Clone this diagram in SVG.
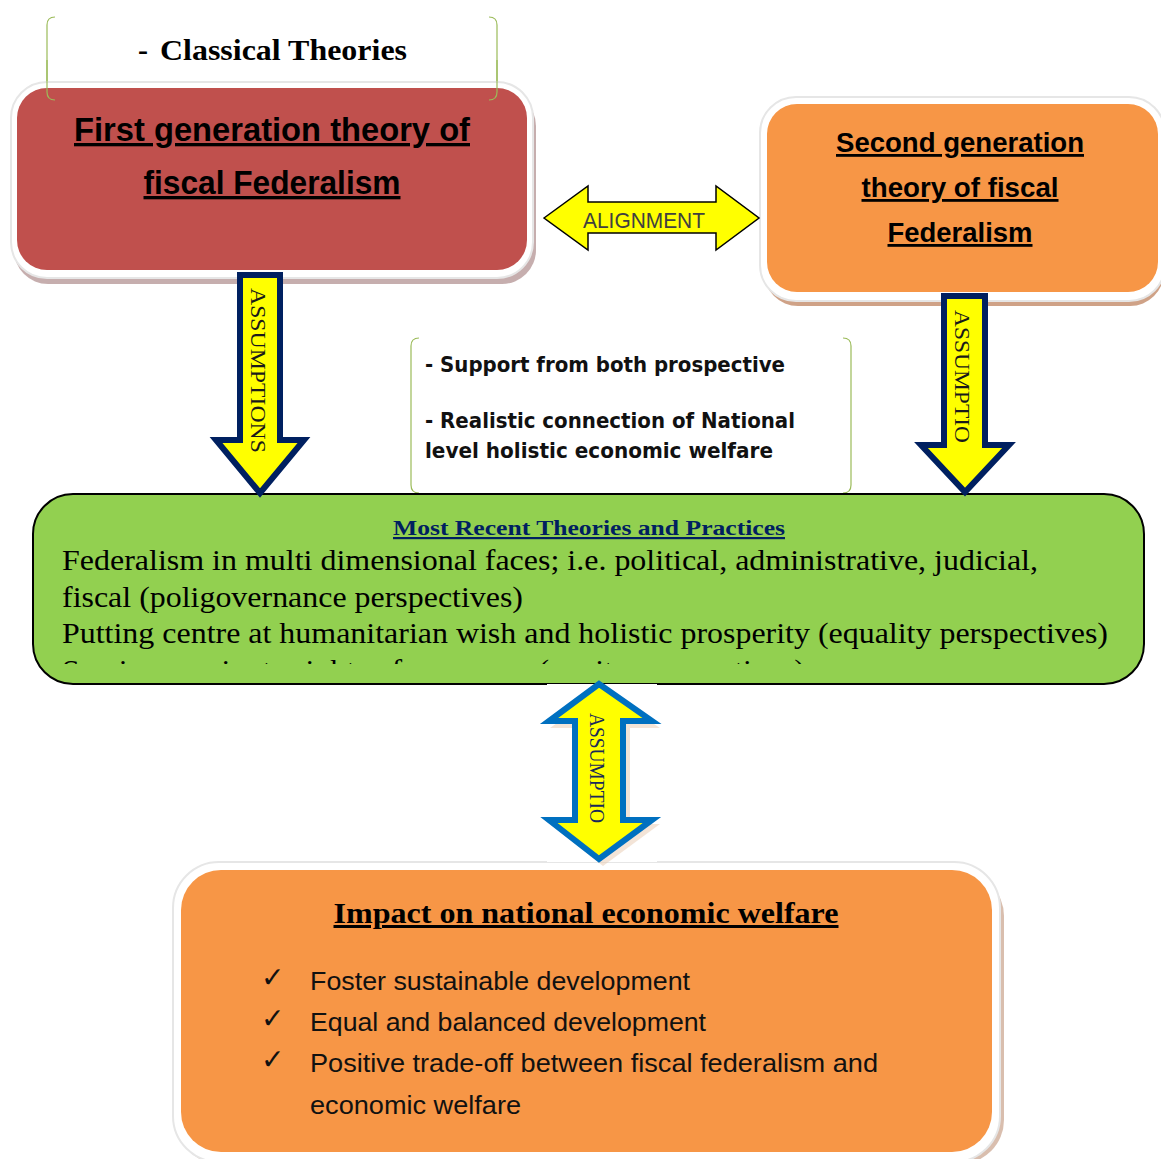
<svg xmlns="http://www.w3.org/2000/svg" width="1161" height="1159" viewBox="0 0 1161 1159">
<style>
.bracket{fill:none;stroke:#9BBB59;stroke-width:1.2}
.frame{fill:#ffffff;stroke:#e6e6e6;stroke-width:2}
.cal{font-family:"Liberation Sans",Arial,sans-serif;font-weight:bold;fill:#000;text-decoration:underline}
.tms{font-family:"Liberation Serif","Times New Roman",serif;fill:#000}
.tah{font-family:"DejaVu Sans",Verdana,sans-serif;font-weight:bold;fill:#111;font-size:21px}
.vert{font-family:"Liberation Serif","Times New Roman",serif;font-size:20px;fill:#1a1a1a}
.bul{font-family:"Liberation Sans",Arial,sans-serif;font-size:25px;fill:#111}
.chk{font-family:"DejaVu Sans",sans-serif;font-size:28px;fill:#111}
.yarrow{fill:#FFFF00;stroke:#002060;stroke-width:6;stroke-linejoin:miter}
</style>
<defs>
<clipPath id="gclip"><rect x="33" y="494" width="1111" height="170"/></clipPath>
</defs>
<rect width="1161" height="1159" fill="#ffffff"/>

<g id="classical">
<path class="bracket" d="M55,17 Q47,17 47,25 L47,92 Q47,100 55,100"/>
<path class="bracket" d="M489,17 Q497,17 497,25 L497,92 Q497,100 489,100"/>
</g>

<g id="first-gen">
<rect x="14" y="92" width="522" height="192" rx="34" fill="#b89a9a" opacity="0.8"/>
<rect class="frame" x="11" y="82" width="522" height="196" rx="36"/>
<rect x="17" y="88" width="510" height="182" rx="30" fill="#C0504D"/>
<path class="bracket" d="M47,60 L47,92 Q47,100 55,100 M497,60 L497,92 Q497,100 489,100"/>
<text class="cal" x="272" y="141" font-size="33" text-anchor="middle" textLength="396" lengthAdjust="spacingAndGlyphs">First generation theory of</text>
<text class="cal" x="272" y="194" font-size="33" text-anchor="middle" textLength="257" lengthAdjust="spacingAndGlyphs">fiscal Federalism</text>
</g>
<text class="tms" x="138" y="60" font-size="30" font-weight="bold">-</text>
<text class="tms" x="160" y="60" font-size="30" font-weight="bold" textLength="247" lengthAdjust="spacingAndGlyphs">Classical Theories</text>

<g id="second-gen">
<rect x="764" y="108" width="400" height="198" rx="34" fill="#cfa287"/>
<rect class="frame" x="760" y="97" width="405" height="204" rx="36"/>
<rect x="767" y="104" width="391" height="188" rx="30" fill="#F79646"/>
<text class="cal" x="960" y="152" font-size="28" text-anchor="middle" textLength="248" lengthAdjust="spacingAndGlyphs">Second generation</text>
<text class="cal" x="960" y="197" font-size="28" text-anchor="middle" textLength="197" lengthAdjust="spacingAndGlyphs">theory of fiscal</text>
<text class="cal" x="960" y="242" font-size="28" text-anchor="middle" textLength="145" lengthAdjust="spacingAndGlyphs">Federalism</text>
</g>

<g id="support-note">
<path class="bracket" d="M419,338 Q411,338 411,346 L411,485 Q411,493 419,493"/>
<path class="bracket" d="M843,338 Q851,338 851,346 L851,485 Q851,493 843,493"/>
<text class="tah" x="425" y="372" textLength="360" lengthAdjust="spacingAndGlyphs">- Support from both prospective</text>
<text class="tah" x="425" y="428" textLength="370" lengthAdjust="spacingAndGlyphs">- Realistic connection of National</text>
<text class="tah" x="425" y="458" textLength="348" lengthAdjust="spacingAndGlyphs">level holistic economic welfare</text>
</g>

<g id="recent">
<rect x="33" y="494" width="1111" height="190" rx="40" fill="#92D050" stroke="#000" stroke-width="2"/>
<text x="589" y="535" font-family="'Liberation Serif',Cambria,serif" font-weight="bold" font-size="22" fill="#002060" text-anchor="middle" text-decoration="underline" textLength="392" lengthAdjust="spacingAndGlyphs">Most Recent Theories and Practices</text>
<g clip-path="url(#gclip)">
<text class="tms" x="62" y="570" font-size="29" textLength="976" lengthAdjust="spacingAndGlyphs">Federalism in multi dimensional faces; i.e. political, administrative, judicial,</text>
<text class="tms" x="62" y="607" font-size="29" textLength="461" lengthAdjust="spacingAndGlyphs">fiscal (poligovernance perspectives)</text>
<text class="tms" x="62" y="643" font-size="29" textLength="1046" lengthAdjust="spacingAndGlyphs">Putting centre at humanitarian wish and holistic prosperity (equality perspectives)</text>
<text class="tms" x="62" y="680" font-size="29" textLength="743" lengthAdjust="spacingAndGlyphs">Semi-sovereignty rights of resources (equity perspectives)</text>
</g>
</g>

<g id="impact">
<rect x="176" y="872" width="828" height="292" rx="44" fill="#c9a38b" opacity="0.7"/>
<rect class="frame" x="173" y="862" width="827" height="300" rx="46"/>
<rect x="181" y="870" width="811" height="282" rx="40" fill="#F79646"/>
<text class="tms" x="586" y="923" font-size="30" font-weight="bold" text-anchor="middle" text-decoration="underline" textLength="505" lengthAdjust="spacingAndGlyphs">Impact on national economic welfare</text>
<text class="chk" x="261" y="987">✓</text>
<text class="chk" x="261" y="1028">✓</text>
<text class="chk" x="261" y="1069">✓</text>
<text class="bul" x="310" y="990" textLength="380" lengthAdjust="spacingAndGlyphs">Foster sustainable development</text>
<text class="bul" x="310" y="1031" textLength="396" lengthAdjust="spacingAndGlyphs">Equal and balanced development</text>
<text class="bul" x="310" y="1072" textLength="568" lengthAdjust="spacingAndGlyphs">Positive trade-off between fiscal federalism and</text>
<text class="bul" x="310" y="1114" textLength="211" lengthAdjust="spacingAndGlyphs">economic welfare</text>
</g>

<g id="connectors">
<g id="alignment">
<path d="M544,218 L588,186 L588,202 L716,202 L716,186 L759,218 L716,250 L716,233 L588,233 L588,250 Z" fill="#FFFF00" stroke="#000" stroke-width="1.5"/>
<text x="644" y="228" font-family="'Liberation Sans',Arial,sans-serif" font-size="22" fill="#404040" text-anchor="middle" textLength="122" lengthAdjust="spacingAndGlyphs">ALIGNMENT</text>
</g>
<g id="assume-left">
<path class="yarrow" d="M240,275 L280,275 L280,440 L304,440 L260,493 L216,440 L240,440 Z"/>
<text class="vert" transform="translate(251,288) rotate(90)" textLength="165" lengthAdjust="spacingAndGlyphs">ASSUMPTIONS</text>
</g>
<g id="assume-right">
<path class="yarrow" d="M944,296 L985,296 L985,445 L1009,445 L965,492 L921,445 L944,445 Z"/>
<text class="vert" transform="translate(955,310) rotate(90)" textLength="133" lengthAdjust="spacingAndGlyphs">ASSUMPTIO</text>
</g>
<g id="assume-bottom">
<rect x="547" y="684" width="110" height="178" fill="#ffffff"/>
<path d="M603,690 L660,728 L630,728 L630,824 L660,824 L603,866 L550,824 L578,824 L578,728 L550,728 Z" fill="#e8c9b0" opacity="0.5"/>
<path d="M599,684 L652,721 L623,721 L623,820 L652,820 L599,859 L549,820 L575,820 L575,721 L549,721 Z" fill="#FFFF00" stroke="#0070C0" stroke-width="6" stroke-linejoin="miter"/>
<text class="vert" transform="translate(590,713) rotate(90)" style="fill:#1a2a5a" textLength="110" lengthAdjust="spacingAndGlyphs">ASSUMPTIO</text>
</g>
</g>
</svg>
